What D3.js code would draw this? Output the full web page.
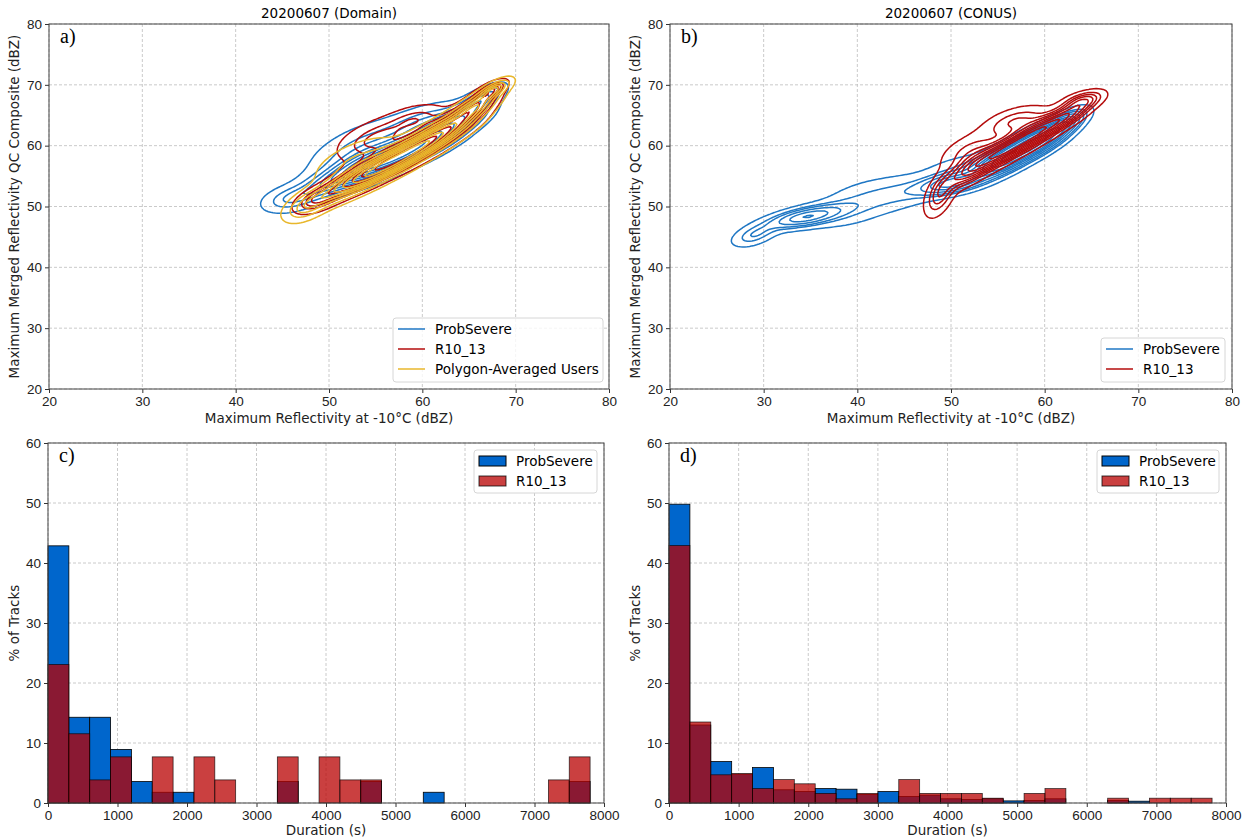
<!DOCTYPE html>
<html>
<head>
<meta charset="utf-8">
<script src="https://cdn.jsdelivr.net/npm/d3@7"></script>
<style>
  body { margin: 0; background: #fff; }
  svg { font-family: 'DejaVu Sans', sans-serif; }
  .tick text { font-size: 13.5px; fill: #222; }
  .tick line { stroke: #333; }
  .grid line { stroke: #bdbdbd; stroke-dasharray: 3,2; stroke-width: 0.8; }
</style>
</head>
<body>
<svg width="1252" height="838"></svg>
<script>
// ---- data ----
const reflTicks = [20, 30, 40, 50, 60, 70, 80]
const durationTicks = [0, 1000, 2000, 3000, 4000, 5000, 6000, 7000, 8000]
const percentTicks = [0, 10, 20, 30, 40, 50, 60]

// kde components: [meanX, meanY, sdX, sdY, corr, weight]
const domainProbSevere = [
  [45.5, 51.2, 1.8, 1.4, 0.35, 0.04],
  [49, 53.3, 2.11, 1.87, 0.565, 0.07],
  [52.5, 55.5, 2.11, 1.87, 0.565, 0.1],
  [55.5, 57.3, 2.11, 1.87, 0.565, 0.13],
  [58.5, 59.2, 2.11, 1.87, 0.565, 0.13],
  [61.5, 61.5, 2.11, 1.87, 0.565, 0.12],
  [64.3, 64.5, 2.11, 1.87, 0.6, 0.09],
  [66.5, 67.8, 1.5, 1.5, 0.7, 0.04],
  [53.5, 59.5, 3.5, 3.0, 0.6, 0.15],
  [60, 64, 2.5, 2, 0.6, 0.06]
]
const domainR10 = [
  [48.5, 51, 1.5, 1.4, 0.5, 0.04],
  [51.5, 53.3, 2.06, 1.79, 0.667, 0.08],
  [54.5, 55.7, 2.06, 1.79, 0.667, 0.12],
  [57.5, 58, 2.06, 1.79, 0.667, 0.14],
  [60.5, 60.5, 2.06, 1.79, 0.667, 0.14],
  [63.3, 63.3, 2.06, 1.79, 0.667, 0.11],
  [65.5, 66.3, 1.6, 1.6, 0.7, 0.07],
  [67.2, 69, 1.1, 1.1, 0.7, 0.03],
  [55, 61, 2.5, 2.2, 0.5, 0.12],
  [59.5, 64.5, 2, 1.5, 0.4, 0.05]
]
const domainUsers = [
  [47.5, 50, 1.5, 1.6, 0.5, 0.05],
  [50.5, 52.3, 2.06, 1.79, 0.667, 0.08],
  [53.8, 54.8, 2.06, 1.79, 0.667, 0.12],
  [57, 57.4, 2.06, 1.79, 0.667, 0.14],
  [60.2, 60.2, 2.06, 1.79, 0.667, 0.14],
  [63.2, 63.2, 2.06, 1.79, 0.667, 0.11],
  [65.8, 66.5, 1.6, 1.6, 0.7, 0.07],
  [67.8, 69.3, 1.1, 1.1, 0.7, 0.03],
  [53, 57.5, 3, 2.6, 0.6, 0.1]
]
const conusProbSevere = [
  [29, 45.3, 1.5, 1.2, 0.5, 0.03],
  [34.5, 48.3, 2.6, 1.2, 0.6, 0.12],
  [40, 50.5, 3, 2.5, 0.5, 0.09],
  [45, 52.3, 2.5, 1.8, 0.4, 0.05],
  [50, 53.8, 2.2, 1.2, 0.5, 0.12],
  [55.5, 57.5, 2.0, 1.8, 0.7, 0.2],
  [59, 60.5, 2.0, 1.8, 0.7, 0.25],
  [62, 63.5, 1.5, 1.5, 0.7, 0.08],
  [52, 56.5, 3, 1.5, 0.4, 0.05]
]
const conusR10 = [
  [48.8, 51.8, 1.0, 2.2, 0.5, 0.07],
  [52, 56, 1.8, 2.0, 0.75, 0.14],
  [55.5, 59, 2.0, 2.0, 0.8, 0.2],
  [59, 62, 2.0, 2.0, 0.8, 0.2],
  [62.5, 65, 1.8, 1.8, 0.8, 0.12],
  [52, 59, 2.0, 2.0, 0.5, 0.09],
  [57, 64, 2.2, 1.6, 0.5, 0.1],
  [64, 67.5, 1.4, 1.0, 0.5, 0.04]
]
const kdeLevels = [0.05, 0.156, 0.261, 0.367, 0.472, 0.578, 0.683, 0.789, 0.894]

// histogram bins (s) and % of tracks
const binStarts = [0, 300, 600, 900, 1200, 1500, 1800, 2100, 2400, 2700, 3000, 3300, 3600,
  3900, 4200, 4500, 4800, 5100, 5400, 5700, 6000, 6300, 6600, 6900, 7200, 7500]
const binWidth = 300
const domainHistProbSevere = [42.86, 14.29, 14.29, 8.93, 3.57, 1.79, 1.79, 0, 0, 0, 0, 3.57, 0,
  0, 0, 3.57, 0, 0, 1.79, 0, 0, 0, 0, 0, 0, 3.57]
const domainHistR10 = [23.08, 11.54, 3.85, 7.69, 0, 7.69, 0, 7.69, 3.85, 0, 0, 7.69, 0,
  7.69, 3.85, 3.85, 0, 0, 0, 0, 0, 0, 0, 0, 3.85, 7.69]
const conusHistProbSevere = [49.8, 13.0, 6.9, 4.8, 5.9, 2.2, 1.9, 2.4, 2.3, 1.4, 1.9, 1.1, 1.3,
  0.7, 0.6, 0.7, 0.35, 0.4, 0.7, 0, 0, 0.4, 0.3, 0, 0, 0]
const conusHistR10 = [42.9, 13.5, 4.7, 4.9, 2.4, 3.9, 3.2, 1.6, 0.7, 1.6, 0, 3.9, 1.6,
  1.6, 1.6, 0.8, 0, 1.6, 2.4, 0, 0, 0.8, 0, 0.8, 0.8, 0.8]

const colors = { blue: '#1f77c4', red: '#b40c0c', yellow: '#e8b72c', barBlue: '#0066cc', barRed: '#b80000' }

const svg = d3.select('svg')

drawContourPanel({ l: 49, r: 609, t: 24, b: 389 }, '20200607 (Domain)', 'a)',
  [[domainProbSevere, colors.blue], [domainR10, colors.red], [domainUsers, colors.yellow]],
  [['ProbSevere', colors.blue], ['R10_13', colors.red], ['Polygon-Averaged Users', colors.yellow]],
  { x: 393, y: 318, w: 210, h: 64 })
drawContourPanel({ l: 670, r: 1232, t: 24, b: 389 }, '20200607 (CONUS)', 'b)',
  [[conusProbSevere, colors.blue], [conusR10, colors.red]],
  [['ProbSevere', colors.blue], ['R10_13', colors.red]],
  { x: 1101, y: 338, w: 124, h: 44 })
drawHistPanel({ l: 48, r: 604, t: 443, b: 803 }, 'c)', domainHistProbSevere, domainHistR10, { x: 474, y: 450, w: 123 })
drawHistPanel({ l: 669, r: 1226, t: 443, b: 803 }, 'd)', conusHistProbSevere, conusHistR10, { x: 1097, y: 450, w: 122 })


function drawAxes (box, xScale, yScale, xTicks, yTicks) {
  const g = svg.append('g')
  const grid = g.append('g').attr('class', 'grid')
  grid.selectAll('line.v').data(xTicks).join('line')
    .attr('class', 'v')
    .attr('x1', (d) => xScale(d)).attr('x2', (d) => xScale(d))
    .attr('y1', box.t).attr('y2', box.b)
  grid.selectAll('line.h').data(yTicks).join('line')
    .attr('class', 'h')
    .attr('x1', box.l).attr('x2', box.r)
    .attr('y1', (d) => yScale(d)).attr('y2', (d) => yScale(d))
  g.append('g')
    .attr('transform', `translate(0,${box.b})`)
    .call(d3.axisBottom(xScale).tickValues(xTicks).tickFormat(d3.format('d')).tickSize(4).tickPadding(3))
    .call((a) => a.select('.domain').remove())
  g.append('g')
    .attr('transform', `translate(${box.l},0)`)
    .call(d3.axisLeft(yScale).tickValues(yTicks).tickFormat(d3.format('d')).tickSize(4).tickPadding(3))
    .call((a) => a.select('.domain').remove())
  return g
}


function drawFrame (box) {
  svg.append('rect')
    .attr('x', box.l).attr('y', box.t)
    .attr('width', box.r - box.l).attr('height', box.b - box.t)
    .attr('fill', 'none').attr('stroke', '#444').attr('stroke-width', 1)
}


function drawPanelLetter (box, letter) {
  svg.append('text')
    .attr('x', box.l + 11).attr('y', box.t + 19)
    .style('font-family', "'Liberation Serif', serif")
    .style('font-size', '20px')
    .text(letter)
}


function axisLabel (x, y, text, rotate) {
  svg.append('text')
    .attr('transform', `translate(${x},${y})` + (rotate ? ' rotate(-90)' : ''))
    .attr('text-anchor', 'middle')
    .style('font-size', '13.5px')
    .attr('fill', '#222')
    .text(text)
}


function densityGrid (blobs, size, min, step) {
  const values = new Array(size * size)
  for (let j = 0; j < size; j++) {
    const y = min + j * step
    for (let i = 0; i < size; i++) {
      const x = min + i * step
      let v = 0
      blobs.forEach(([mx, my, sx, sy, rho, w]) => {
        const dx = (x - mx) / sx, dy = (y - my) / sy
        const q = (dx * dx - 2 * rho * dx * dy + dy * dy) / (1 - rho * rho)
        v += w / (2 * Math.PI * sx * sy * Math.sqrt(1 - rho * rho)) * Math.exp(-q / 2)
      })
      values[j * size + i] = v
    }
  }
  return values
}


function isoLevels (values) { // seaborn-style iso-proportion levels
  const sorted = values.slice().sort((a, b) => b - a)
  const total = d3.sum(sorted)
  const cum = []
  let s = 0
  sorted.forEach((v) => { s += v; cum.push(s / total) })
  return kdeLevels.map((q) => sorted[Math.min(d3.bisectLeft(cum, 1 - q), sorted.length - 1)])
}


function drawContourPanel (box, title, letter, series, legendItems, lg) {
  const x = d3.scaleLinear().domain([20, 80]).range([box.l, box.r])
  const y = d3.scaleLinear().domain([20, 80]).range([box.b, box.t])
  drawAxes(box, x, y, reflTicks, reflTicks)

  const size = 241, min = 20, step = 0.25
  const proj = d3.geoTransform({
    point (px, py) { this.stream.point(x(min + (px - 0.5) * step), y(min + (py - 0.5) * step)) }
  })
  const path = d3.geoPath(proj)

  series.forEach(([blobs, color]) => {
    const values = densityGrid(blobs, size, min, step)
    const contours = d3.contours().size([size, size]).thresholds(isoLevels(values))(values)
    svg.append('g')
      .selectAll('path').data(contours).join('path')
        .attr('d', path)
        .attr('fill', 'none')
        .attr('stroke', color)
        .attr('stroke-width', 1.5)
        .attr('stroke-linejoin', 'round')
  })

  drawFrame(box)
  drawPanelLetter(box, letter)
  svg.append('text')
    .attr('x', (box.l + box.r) / 2).attr('y', box.t - 6)
    .attr('text-anchor', 'middle')
    .style('font-size', '13.5px')
    .text(title)
  axisLabel((box.l + box.r) / 2, box.b + 34, 'Maximum Reflectivity at -10°C (dBZ)')
  axisLabel(box.l - 30, (box.t + box.b) / 2, 'Maximum Merged Reflectivity QC Composite (dBZ)', true)

  const leg = svg.append('g').attr('transform', `translate(${lg.x},${lg.y})`)
  leg.append('rect')
    .attr('width', lg.w).attr('height', lg.h).attr('rx', 3)
    .attr('fill', '#fff').attr('fill-opacity', 0.8).attr('stroke', '#d6d6d6')
  legendItems.forEach(([name, color], i) => {
    leg.append('line')
      .attr('x1', 5).attr('x2', 32).attr('y1', 11 + i * 20).attr('y2', 11 + i * 20)
      .attr('stroke', color).attr('stroke-width', 1.5)
    leg.append('text')
      .attr('x', 42).attr('y', 16 + i * 20)
      .style('font-size', '13.5px')
      .text(name)
  })
}


function drawHistPanel (box, letter, blueVals, redVals, lg) {
  const x = d3.scaleLinear().domain([0, 8000]).range([box.l, box.r])
  const y = d3.scaleLinear().domain([0, 60]).range([box.b, box.t])
  drawAxes(box, x, y, durationTicks, percentTicks)

  const bars = (vals, fill, opacity) => svg.append('g')
    .selectAll('rect').data(vals).join('rect')
      .attr('x', (d, i) => x(binStarts[i]))
      .attr('width', (d, i) => x(binStarts[i] + binWidth) - x(binStarts[i]))
      .attr('y', (d) => y(d))
      .attr('height', (d) => y(0) - y(d))
      .attr('fill', fill)
      .attr('fill-opacity', opacity)
      .attr('stroke', '#000')
      .attr('stroke-opacity', opacity)
      .attr('stroke-width', 0.8)
  bars(blueVals, colors.barBlue, 1)
  bars(redVals, colors.barRed, 0.75)

  drawFrame(box)
  drawPanelLetter(box, letter)
  axisLabel((box.l + box.r) / 2, box.b + 32, 'Duration (s)')
  axisLabel(box.l - 29, (box.t + box.b) / 2, '% of Tracks', true)

  const leg = svg.append('g').attr('transform', `translate(${lg.x},${lg.y})`)
  leg.append('rect')
    .attr('width', lg.w).attr('height', 43).attr('rx', 3)
    .attr('fill', '#fff').attr('fill-opacity', 0.8).attr('stroke', '#d6d6d6')
  const items = [['ProbSevere', colors.barBlue, 1], ['R10_13', colors.barRed, 0.75]]
  items.forEach(([name, color, op], i) => {
    leg.append('rect')
      .attr('x', 5).attr('y', 6 + i * 20).attr('width', 27).attr('height', 10)
      .attr('fill', color).attr('fill-opacity', op)
      .attr('stroke', '#000').attr('stroke-opacity', op)
    leg.append('text')
      .attr('x', 42).attr('y', 16 + i * 20)
      .style('font-size', '13.5px')
      .text(name)
  })
}
</script>
</body>
</html>
